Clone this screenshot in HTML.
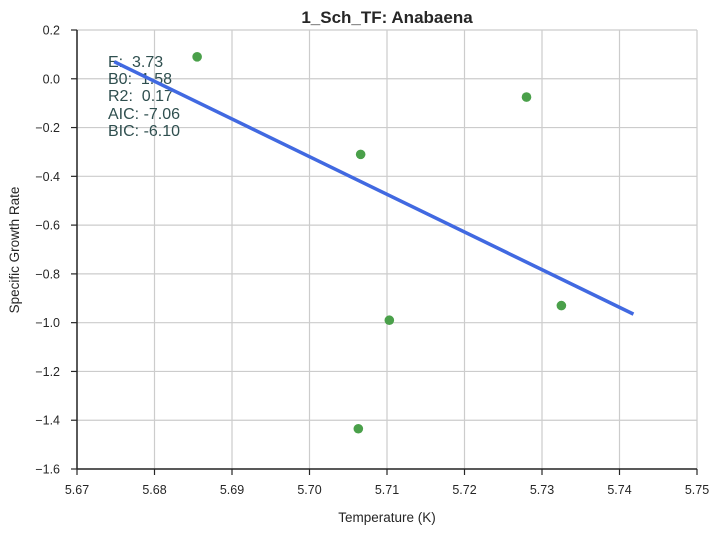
<!DOCTYPE html>
<html><head><meta charset="utf-8"><style>
body{margin:0;background:#fff;}
svg{font-family:"Liberation Sans",sans-serif;}
</style></head><body>
<svg width="720" height="533">
<g id="grid"></g>
<g id="axes"></g>
<g id="ann" font-size="16" fill="#2f4f4f">
<text x="108" y="67" xml:space="preserve">E:  3.73</text>
<text x="108" y="84" xml:space="preserve">B0:  1.58</text>
<text x="108" y="101" xml:space="preserve">R2:  0.17</text>
<text x="108" y="119">AIC: -7.06</text>
<text x="108" y="136">BIC: -6.10</text>
</g>
<g id="marks"></g>
<text x="387" y="23" text-anchor="middle" font-size="17" font-weight="bold" fill="#262626">1_Sch_TF: Anabaena</text>
<text x="387" y="522" text-anchor="middle" font-size="13.5" fill="#262626">Temperature (K)</text>
<text transform="translate(19,250) rotate(-90)" text-anchor="middle" font-size="13.5" fill="#262626">Specific Growth Rate</text>
</svg>
<script>
const xTicks=[5.67,5.68,5.69,5.70,5.71,5.72,5.73,5.74,5.75];
const yTicks=[0.2,0.0,-0.2,-0.4,-0.6,-0.8,-1.0,-1.2,-1.4,-1.6];
const pointX=[5.6855,5.7066,5.7280,5.7103,5.7325,5.7063];
const pointY=[0.09,-0.31,-0.075,-0.99,-0.93,-1.435];
const lineX=[5.6748,5.7418];
const lineY=[0.07,-0.965];
const X0=77,X1=697,Y0=30,Y1=469;
function sx(v){return X0+(v-5.67)/(5.75-5.67)*(X1-X0);}
function sy(v){return Y0+(0.2-v)/(1.8)*(Y1-Y0);}
const NS="http://www.w3.org/2000/svg";
function mk(p,t,a){const e=document.createElementNS(NS,t);for(const k in a)e.setAttribute(k,a[k]);p.appendChild(e);return e;}
const grid=document.getElementById('grid'),axes=document.getElementById('axes'),marks=document.getElementById('marks');
xTicks.forEach(v=>{
 const g=mk(grid,'line',{x1:sx(v),x2:sx(v),y1:Y0,y2:Y1,stroke:'#cccccc','stroke-width':1.2});
 
 
 const t=mk(axes,'line',{x1:sx(v),x2:sx(v),y1:Y1,y2:Y1+6,stroke:'#262626','stroke-width':1.2});
 
 
 const l=mk(axes,'text',{x:sx(v),y:Y1+25,'text-anchor':'middle','font-size':12.5,fill:'#262626'});
 l.textContent=v.toFixed(2);
 
 
});
yTicks.forEach(v=>{
 const g=mk(grid,'line',{x1:X0,x2:X1,y1:sy(v),y2:sy(v),stroke:'#cccccc','stroke-width':1.2});
 
 
 const t=mk(axes,'line',{x1:X0-6,x2:X0,y1:sy(v),y2:sy(v),stroke:'#262626','stroke-width':1.2});
 
 
 const l=mk(axes,'text',{x:X0-17,y:sy(v)+4.5,'text-anchor':'end','font-size':12.5,fill:'#262626'});
 l.textContent=v.toFixed(1).replace('-','\u2212');
 
 
});
const ax=mk(axes,'line',{x1:X0,x2:X0,y1:Y0,y2:Y1,stroke:'#262626','stroke-width':1.5});


const bx=mk(axes,'line',{x1:X0,x2:X1,y1:Y1,y2:Y1,stroke:'#262626','stroke-width':1.5});


const fl=mk(marks,'line',{x1:sx(lineX[0]),y1:sy(lineY[0]),x2:sx(lineX[1]),y2:sy(lineY[1]),stroke:'#4169e1','stroke-width':3.5});


pointX.forEach((v,i)=>{
 const c=mk(marks,'circle',{cx:sx(v),cy:sy(pointY[i]),r:4.8,fill:'#4aa04a'});
 
 
});
</script>
</body></html>
